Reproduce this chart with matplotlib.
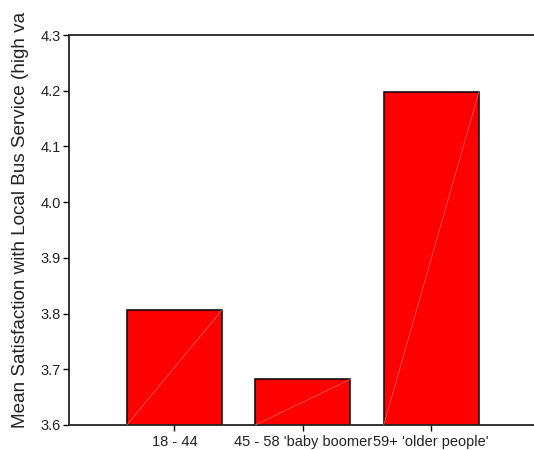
import matplotlib
matplotlib.use("Agg")
import matplotlib.pyplot as plt

categories = ["18 - 44", "45 - 58 'baby boomer", "59+ 'older people'"]
values = [3.806, 3.682, 4.197]
yticks = [3.6, 3.7, 3.8, 3.9, 4.0, 4.1, 4.2, 4.3]
ylabel = "Mean Satisfaction with Local Bus Service (high va"

plt.rcParams['font.family'] = ['Liberation Sans', 'DejaVu Sans']

fig = plt.figure(figsize=(5.34, 4.5), dpi=100)
ax = fig.add_axes([69/534, 25/450, 465/534, 390/450])

x = list(range(len(categories)))
width = 0.74
bars = ax.bar(x, values, width=width, bottom=0, color='#ff0000',
              edgecolor='black', linewidth=1.1, zorder=2)
ymin = 3.6
for xi, v in zip(x, values):
    ax.plot([xi - width/2, xi + width/2], [ymin, v], color='#ff8080',
            linewidth=0.4, zorder=3)

ax.set_ylim(3.6, 4.3)
ax.set_xlim(-0.82, 2.80)
ax.set_yticks(yticks)
ax.set_yticklabels([f"{t:.1f}" for t in yticks])
ax.set_xticks(x)
ax.set_xticklabels(categories)
ax.tick_params(axis='both', direction='out', length=4, width=1, colors='black',
               labelsize=10.5, labelcolor='#222222', pad=2)
ax.tick_params(axis='x', pad=3)
for s in ['left', 'bottom', 'top']:
    ax.spines[s].set_linewidth(1.3)
    ax.spines[s].set_color('#222222')
ax.spines['right'].set_visible(False)

fig.text(21/534, 1 - 428/450, ylabel, rotation=90, ha='center', va='bottom',
         fontsize=13.6, color='#222222')

fig.savefig("out.png", dpi=100)
